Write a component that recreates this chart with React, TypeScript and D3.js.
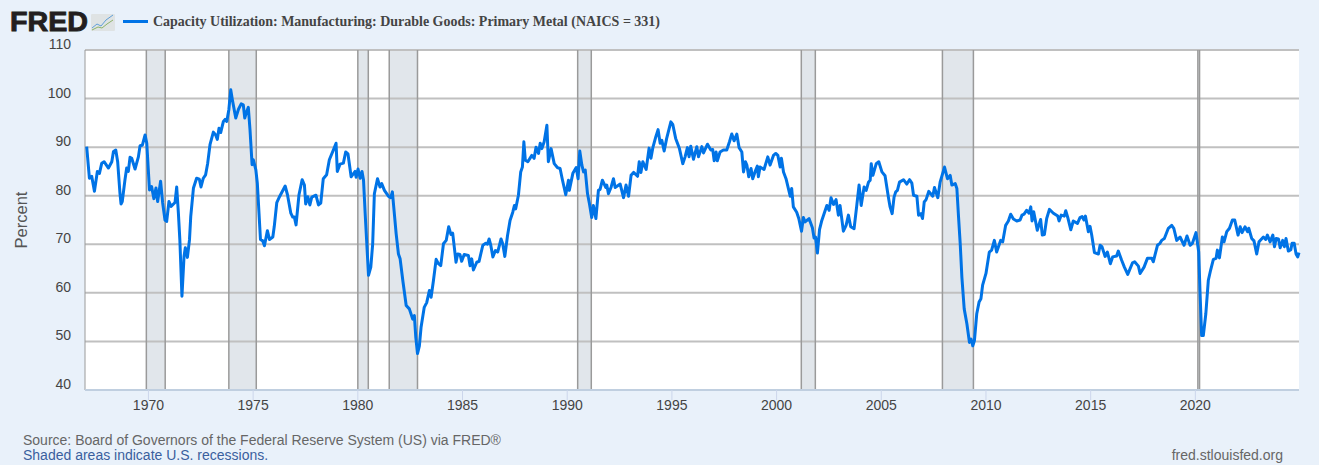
import React from 'react';
import * as d3 from 'd3';

// [decimal year, percent]
const trace1960s: [number, number][] = [
  [1967.05,90.1],[1967.18,83.6],[1967.29,84],[1967.42,80.9],[1967.56,85],[1967.66,84.6],[1967.77,86.7],[1967.88,87],
  [1968.09,85.7],[1968.25,87],[1968.33,89.1],[1968.44,89.4],[1968.53,87],[1968.64,80.5],[1968.69,78.3],[1968.75,78.8],[1968.88,83.3],[1968.96,85.7],
  [1969.04,85],[1969.12,87.9],[1969.2,87.7],[1969.36,85.5],[1969.52,88],[1969.6,90.3],[1969.71,90.4],[1969.84,92.5],[1969.92,90.8],
];
const trace1970s: [number, number][] = [
  [1970.05,81.2],[1970.15,81.9],[1970.26,79.4],[1970.36,81.6],[1970.44,78.8],[1970.58,83],[1970.68,78.5],[1970.79,75],[1970.87,74.7],[1970.98,78.8],
  [1971.08,77.8],[1971.27,78.6],[1971.35,81.8],[1971.43,76.4],[1971.5,70.9],[1971.6,59.3],[1971.7,67.5],[1971.76,69.3],[1971.86,67.3],[1971.96,70.9],
  [1972.02,75.7],[1972.15,81.6],[1972.3,83.6],[1972.43,83.4],[1972.51,81.8],[1972.62,83.6],[1972.73,84.3],[1972.83,86.7],[1972.94,90.5],
  [1973.1,93.1],[1973.21,92.5],[1973.29,91.6],[1973.37,93.9],[1973.45,93],[1973.58,95.3],[1973.66,95.7],[1973.74,95.3],[1973.84,97.7],[1973.93,101.8],
  [1974.01,99.7],[1974.17,96],[1974.3,97.8],[1974.43,98.9],[1974.53,98.7],[1974.6,96],[1974.69,97.3],[1974.77,98.2],[1974.85,93.6],[1974.95,86.4],
  [1975.01,87.4],[1975.13,85.3],[1975.2,82.6],[1975.28,76.4],[1975.35,71],[1975.46,70.7],[1975.54,69.7],[1975.68,72.8],[1975.78,71],[1975.94,71.5],
  [1976.01,73.7],[1976.13,78.6],[1976.26,79.8],[1976.53,82],[1976.64,80.2],[1976.8,76.4],[1976.89,75.6],[1976.97,75.6],
  [1977.05,74],[1977.19,80.2],[1977.34,83.3],[1977.45,82.2],[1977.51,78.3],[1977.61,79.8],[1977.71,78.1],[1977.8,79.7],
  [1978.0,80.1],[1978.12,78.1],[1978.23,78.5],[1978.35,83.5],[1978.51,84.3],[1978.64,87.4],[1978.83,89.4],[1978.96,90.8],
  [1979.02,85],[1979.15,86.5],[1979.31,86.7],[1979.42,89],[1979.53,88.6],[1979.68,83.9],[1979.87,85],[1979.92,83.8],
];
const trace1980s: [number, number][] = [
  [1980.01,85.5],[1980.11,83.6],[1980.2,85],[1980.27,83.3],[1980.35,76.4],[1980.51,63.6],[1980.62,65.3],[1980.71,70.1],[1980.79,80.4],[1980.94,83.5],
  [1981.06,81.8],[1981.14,82.5],[1981.27,81.1],[1981.46,79.9],[1981.57,79.6],[1981.65,80.8],[1981.73,77],[1981.83,72.2],[1981.94,68],
  [1982.02,67],[1982.15,62.5],[1982.31,57.4],[1982.46,56.7],[1982.62,54.6],[1982.7,55.3],[1982.77,50.8],[1982.85,47.5],[1982.94,49.1],
  [1983.02,52.9],[1983.17,57],[1983.29,58],[1983.42,60.5],[1983.5,59.1],[1983.61,62.5],[1983.74,66.9],[1983.85,66],[1983.96,65.6],
  [1984.09,70.1],[1984.22,70.8],[1984.34,73.6],[1984.45,72],[1984.53,72.3],[1984.69,66.3],[1984.77,68],[1984.88,67.9],[1984.96,66.5],
  [1985.08,67.9],[1985.28,67.7],[1985.36,65.6],[1985.44,67],[1985.52,64.7],[1985.68,66.3],[1985.79,66.5],[1985.97,69.8],
  [1986.11,70.2],[1986.19,70],[1986.27,71.1],[1986.35,69.8],[1986.45,67.4],[1986.57,68.7],[1986.68,68.4],[1986.84,71.1],[1986.92,70.1],
  [1987.02,67.5],[1987.15,71.8],[1987.27,74.9],[1987.4,76.6],[1987.48,78],[1987.54,77.3],[1987.67,80.1],[1987.78,84.9],[1987.86,85.9],[1987.93,91.1],
  [1988.0,87.3],[1988.12,87],[1988.31,88.3],[1988.42,87.7],[1988.51,90],[1988.63,88.7],[1988.71,90.8],[1988.79,89.7],[1988.9,91.1],
  [1989.03,94.5],[1989.1,87],[1989.23,89.7],[1989.38,86.6],[1989.53,85.8],[1989.66,85.6],[1989.76,83.5],[1989.93,80.2],
];
const trace1990s: [number, number][] = [
  [1990.06,83.2],[1990.1,81.1],[1990.27,84.6],[1990.43,85.8],[1990.52,83.5],[1990.6,89.2],[1990.7,86.3],[1990.78,84.9],[1990.86,85.3],[1990.97,80.4],
  [1991.06,78.4],[1991.17,75.5],[1991.25,78],[1991.37,75.3],[1991.49,81.1],[1991.57,81.3],[1991.68,83.2],[1991.84,81.7],[1991.89,82.2],[1991.97,80.4],
  [1992.1,81.8],[1992.21,83.5],[1992.29,81.7],[1992.53,82.4],[1992.69,79.6],[1992.81,82.2],[1992.93,79.9],
  [1993.05,84.2],[1993.17,84.8],[1993.36,84],[1993.44,87],[1993.52,84.8],[1993.61,87],[1993.77,85.4],[1993.91,89.8],
  [1994.0,87.7],[1994.09,89.9],[1994.23,92.1],[1994.34,93.6],[1994.44,90.8],[1994.52,91.4],[1994.63,89.2],[1994.75,91.8],[1994.95,95.2],
  [1995.04,94.7],[1995.18,91.8],[1995.36,89.7],[1995.52,86.6],[1995.63,88],[1995.74,89.9],[1995.82,88],[1995.9,90.2],
  [1996.03,87.5],[1996.19,90.1],[1996.27,88],[1996.43,90.1],[1996.51,88.8],[1996.7,90.6],[1996.86,89.4],[1996.95,89.5],
  [1997.02,87.2],[1997.11,89],[1997.17,87.2],[1997.3,89],[1997.46,89.4],[1997.62,89.4],[1997.75,91.1],[1997.86,92.7],[1997.97,91.3],
  [1998.1,92.7],[1998.21,89.9],[1998.34,89],[1998.42,84.9],[1998.51,87],[1998.58,86.3],[1998.67,83.9],[1998.78,85.6],[1998.86,83.5],[1998.97,84.9],
  [1999.08,86.1],[1999.13,83.9],[1999.21,85.9],[1999.4,85.4],[1999.58,88],[1999.69,86.3],[1999.85,88.3],[1999.96,88.7],
];
const trace2000s: [number, number][] = [
  [2000.06,88.3],[2000.17,85.9],[2000.23,87.7],[2000.33,84.9],[2000.45,83.5],[2000.65,79.9],[2000.72,81.5],[2000.8,77.7],[2000.96,76.6],
  [2001.06,75.3],[2001.19,72.7],[2001.28,75.5],[2001.36,74.6],[2001.55,75.3],[2001.71,73.4],[2001.79,71.3],[2001.86,71.5],[2001.95,68.2],
  [2002.05,73],[2002.16,74.9],[2002.4,78],[2002.51,77],[2002.6,79.6],[2002.72,78.2],[2002.84,79.2],[2002.95,76],
  [2003.03,78],[2003.19,72.7],[2003.32,73.9],[2003.43,76],[2003.54,73.6],[2003.7,73.2],[2003.83,78],[2003.94,82.2],
  [2004.04,78],[2004.18,81.8],[2004.28,81.1],[2004.39,82.8],[2004.47,83.2],[2004.52,86.6],[2004.6,84.2],[2004.76,86.6],[2004.88,87],
  [2005.03,84.9],[2005.18,84.1],[2005.34,79.7],[2005.42,77.7],[2005.52,76.3],[2005.61,79.7],[2005.69,80.8],[2005.77,81.1],[2005.87,82.8],
  [2006.06,83.3],[2006.22,82.4],[2006.35,83.3],[2006.46,82.6],[2006.54,80.1],[2006.7,79.9],[2006.78,76],[2006.89,76.3],[2006.97,75.3],
  [2007.05,78.7],[2007.14,79.2],[2007.27,80.9],[2007.46,79.9],[2007.54,81.7],[2007.7,79.6],[2007.81,82.8],
  [2008.02,85.9],[2008.16,83.5],[2008.29,84.2],[2008.37,82.2],[2008.53,82.5],[2008.61,81.5],[2008.69,75.6],[2008.77,70.1],[2008.85,63.2],[2008.96,56.7],
  [2009.09,53.6],[2009.21,49.8],[2009.29,50.5],[2009.37,49.1],[2009.45,50.2],[2009.56,55.7],[2009.67,58.1],[2009.76,58.8],[2009.84,61.6],
];
const trace2010s: [number, number][] = [
  [2010.0,64],[2010.16,68.4],[2010.27,68.8],[2010.4,70.8],[2010.51,68.4],[2010.7,70.8],[2010.8,70.5],[2010.94,73.9],
  [2011.07,74.8],[2011.18,76.2],[2011.31,75.2],[2011.47,74.8],[2011.63,75],[2011.72,76],[2011.82,76.2],[2011.94,77],
  [2012.06,76.4],[2012.14,77.7],[2012.2,74.8],[2012.28,76.7],[2012.45,72.9],[2012.61,75.1],[2012.69,71.9],[2012.79,72],[2012.9,75.3],
  [2013.03,77.2],[2013.22,76.4],[2013.43,75.8],[2013.49,74.8],[2013.59,76],[2013.74,75.8],[2013.81,76.9],[2013.92,75.3],
  [2014.05,73],[2014.17,74.8],[2014.37,74.3],[2014.49,75.5],[2014.59,75.7],[2014.68,75],[2014.75,75.8],[2014.89,72.6],[2014.97,73.7],
  [2015.05,71.9],[2015.18,68.3],[2015.37,68],[2015.45,69.8],[2015.54,69.5],[2015.69,67.5],[2015.8,68.4],[2015.94,66],
  [2016.05,67.4],[2016.24,67.6],[2016.32,68.6],[2016.48,66.7],[2016.61,65.3],[2016.77,63.8],
  [2017.0,66.2],[2017.1,66.4],[2017.28,65.5],[2017.36,64],[2017.55,65.3],[2017.71,67.1],[2017.92,67.1],[2017.99,66.4],
  [2018.19,69.8],[2018.31,70.2],[2018.39,70.8],[2018.52,71.2],[2018.71,73.3],[2018.87,73.9],[2018.97,73.3],
  [2019.11,70.8],[2019.27,71.5],[2019.46,69.8],[2019.6,71.7],[2019.75,69.8],[2019.86,70.2],
];
const trace2020s: [number, number][] = [
  [2020.03,72.4],[2020.16,68.4],[2020.22,60.5],[2020.3,51.2],[2020.38,51.2],[2020.5,55.7],[2020.62,62.6],[2020.73,64.7],[2020.86,66.9],[2020.99,67.1],
  [2021.05,68.8],[2021.15,67.2],[2021.29,71.5],[2021.37,70.5],[2021.5,72.6],[2021.63,73.3],[2021.77,75],[2021.88,75],
  [2022.04,71.9],[2022.14,73.6],[2022.23,72.4],[2022.37,73.6],[2022.49,72.6],[2022.55,73.3],[2022.69,71.2],[2022.8,70.7],[2022.93,68],
  [2023.04,70.5],[2023.25,71.5],[2023.36,71],[2023.44,71.9],[2023.57,70.5],[2023.7,71.9],[2023.78,69.5],[2023.86,71.2],[2023.97,71.1],
  [2024.05,69.3],[2024.17,70.8],[2024.25,69.5],[2024.33,71.2],[2024.44,68.6],[2024.56,68.9],[2024.62,70.2],[2024.72,70.2],[2024.81,68],[2024.89,67.4],[2024.95,68.3],
];

const recessions: [number, number][] = [
  [1969.9, 1970.8], [1973.84, 1975.15], [1980.0, 1980.5], [1981.5, 1982.85],
  [1990.5, 1991.15], [2001.18, 2001.85], [2007.92, 2009.4], [2020.12, 2020.2],
];
const yearTicks = d3.range(1970, 2021, 5);
const percentTicks = [40, 50, 60, 70, 80, 90, 100, 110];

const width = 1319;
const height = 465;
const plot = { left: 85, right: 1299, top: 50, bottom: 390 };
const sans = '"Liberation Sans", Arial, sans-serif';

export default function App() {
  const x = d3.scaleLinear().domain([1966.97, 2024.95]).range([plot.left, plot.right]);
  const y = d3.scaleLinear().domain([40, 110]).range([plot.bottom, plot.top]);

  const series = [...trace1960s, ...trace1970s, ...trace1980s, ...trace1990s, ...trace2000s, ...trace2010s, ...trace2020s];
  const line = d3.line<[number, number]>().x(d => x(d[0])).y(d => y(d[1]));

  return (
    <svg width={width} height={height} style={{ position: 'absolute', left: 0, top: 0, display: 'block' }}>
      <rect width={width} height={height} fill="#e9f1fa" />
      <rect x={plot.left} y={plot.top} width={plot.right - plot.left} height={plot.bottom - plot.top} fill="#fff" />

      {recessions.map(r => (
        <rect key={r[0]} x={x(r[0])} y={plot.top} width={x(r[1]) - x(r[0])} height={plot.bottom - plot.top} fill="#e1e6eb" />
      ))}

      {percentTicks.map(t => (
        <g key={t}>
          {t > 40 && <line x1={plot.left} x2={plot.right} y1={y(t)} y2={y(t)} stroke="#c0c0c0" strokeWidth={2} />}
          <text x={71} y={y(t) - 1} textAnchor="end" fontFamily={sans} fontSize={14} fill="#444">{t}</text>
        </g>
      ))}

      {recessions.map(r => (
        <g key={r[0]} stroke="#9a9a9a" strokeWidth={1.5}>
          <line x1={x(r[0])} x2={x(r[0])} y1={plot.top} y2={plot.bottom} />
          <line x1={x(r[1])} x2={x(r[1])} y1={plot.top} y2={plot.bottom} />
        </g>
      ))}

      <line x1={plot.left} x2={plot.left} y1={plot.top} y2={plot.bottom} stroke="#9a9a9a" strokeWidth={1} />
      <line x1={plot.left} x2={plot.right} y1={plot.bottom} y2={plot.bottom} stroke="#c0cfe0" strokeWidth={2} />

      {yearTicks.map(t => (
        <g key={t}>
          <line x1={x(t)} x2={x(t)} y1={plot.bottom} y2={plot.bottom + 10} stroke="#ccd6eb" />
          <text x={x(t)} y={plot.bottom + 20} textAnchor="middle" fontFamily={sans} fontSize={14} fill="#444">{t}</text>
        </g>
      ))}

      <path d={line(series) ?? ''} fill="none" stroke="#0073e6" strokeWidth={3} strokeLinejoin="round" />

      <text transform="translate(27 220) rotate(-90)" textAnchor="middle" fontFamily={sans} fontSize={16.5} fill="#555">Percent</text>

      <text x={10} y={31} fontFamily={sans} fontSize={27} fontWeight={700} fill="#231f20" stroke="#231f20" strokeWidth={0.9} textLength={78} lengthAdjust="spacingAndGlyphs">FRED</text>
      <rect x={91} y={14} width={24} height={17} rx={1} fill="#dfe3e4" />
      <polyline points="92,28 97,24 101,26 106,20 113,15" fill="none" stroke="#5f9fd8" strokeWidth={1} />
      <polyline points="92,30 98,27 102,28 107,24 113,20" fill="none" stroke="#8db36a" strokeWidth={1} />

      <line x1={123} x2={148} y1={21.5} y2={21.5} stroke="#0073e6" strokeWidth={3} />
      <text x={153} y={26} fontFamily='"Liberation Serif", "Times New Roman", serif' fontWeight={700} fontSize={14} fill="#444" textLength={507} lengthAdjust="spacingAndGlyphs">
        Capacity Utilization: Manufacturing: Durable Goods: Primary Metal (NAICS = 331)
      </text>

      <text x={23} y={445} fontFamily={sans} fontSize={14} fill="#666">Source: Board of Governors of the Federal Reserve System (US) via FRED®</text>
      <text x={23} y={460} fontFamily={sans} fontSize={14} fill="#3a5f9e">Shaded areas indicate U.S. recessions.</text>
      <text x={1283} y={460} textAnchor="end" fontFamily={sans} fontSize={14} fill="#666">fred.stlouisfed.org</text>
    </svg>
  );
}
